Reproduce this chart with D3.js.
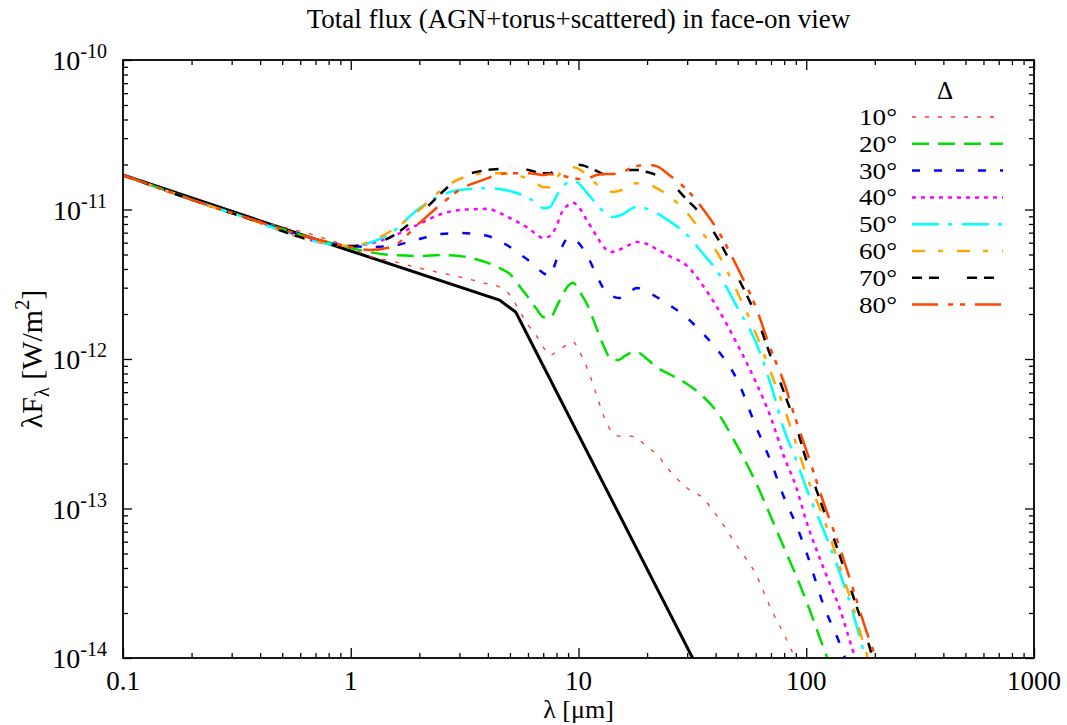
<!DOCTYPE html>
<html>
<head>
<meta charset="utf-8">
<style>
    body {
        margin: 0;
        background-color: #ffffff;
    }
    text {
        font-family: "Liberation Serif", "DejaVu Serif", serif;
        fill: #000;
    }
</style>
</head>
<body>
<div class="board"></div>
<script src="https://d3js.org/d3.v7.min.js"></script>
<script>
    // wavelength grid [um] shared by the torus curves
    const lambda = [0.1, 0.3, 1, 1.2, 1.5, 2, 2.5, 3, 4, 4.5, 5, 5.5, 6, 6.5, 7, 7.5, 8, 8.5, 9, 9.5,
        10, 11, 12, 13, 14, 15, 16, 17, 18, 20, 22, 25, 30, 35, 40, 50, 60, 70, 80, 90,
        100, 120, 140, 160, 180, 200, 250]

    // lambda*F_lambda [W/m^2], one array per half-opening angle
    const flux10 = [1.70e-11, 9.48e-12, 5.53e-12, 4.89e-12, 4.53e-12, 4.06e-12, 3.76e-12, 3.54e-12, 3.18e-12, 3.03e-12,
        2.68e-12, 2.10e-12, 1.69e-12, 1.45e-12, 1.20e-12, 1.06e-12, 1.11e-12, 1.19e-12, 1.26e-12, 1.30e-12,
        1.15e-12, 8.44e-13, 5.75e-13, 4.03e-13, 3.25e-13, 3.05e-13, 3.05e-13, 3.05e-13, 2.96e-13, 2.58e-13,
        2.31e-13, 1.81e-13, 1.37e-13, 1.18e-13, 9.19e-14, 5.53e-14, 3.65e-14, 2.13e-14, 1.43e-14, 9.7e-15,
        6.6e-15, null, null, null, null, null, null]
    const flux20 = [1.70e-11, 9.48e-12, 5.53e-12, 5.20e-12, 4.96e-12, 4.89e-12, 4.96e-12, 4.89e-12, 4.39e-12, 4.06e-12,
        3.70e-12, 3.08e-12, 2.60e-12, 2.19e-12, 1.91e-12, 1.88e-12, 2.23e-12, 2.68e-12, 3.08e-12, 3.23e-12,
        2.89e-12, 2.26e-12, 1.61e-12, 1.19e-12, 9.85e-13, 9.85e-13, 1.05e-12, 1.10e-12, 1.11e-12, 1.00e-12,
        8.84e-13, 7.94e-13, 6.81e-13, 5.66e-13, 4.56e-13, 2.58e-13, 1.50e-13, 8.77e-14, 5.44e-14, 3.59e-14,
        2.41e-14, 1.13e-14, 6.1e-15, 3.5e-15, null, null, null]
    const flux30 = [1.70e-11, 9.48e-12, 5.70e-12, 5.61e-12, 5.70e-12, 6.35e-12, 6.86e-12, 6.96e-12, 6.65e-12, 6.16e-12,
        5.61e-12, 5.04e-12, 4.60e-12, 4.13e-12, 3.76e-12, 3.59e-12, 4.60e-12, 5.70e-12, 6.45e-12, 6.35e-12,
        5.97e-12, 4.81e-12, 3.65e-12, 2.89e-12, 2.64e-12, 2.56e-12, 2.64e-12, 2.85e-12, 2.99e-12, 2.81e-12,
        2.60e-12, 2.30e-12, 1.88e-12, 1.49e-12, 1.19e-12, 7.13e-13, 3.56e-13, 2.05e-13, 1.18e-13, 7.88e-14,
        5.12e-14, 2.19e-14, 1.26e-14, 7.1e-15, 4.4e-15, null, null]
    const flux40 = [1.70e-11, 9.48e-12, 5.70e-12, 5.88e-12, 6.55e-12, 8.00e-12, 9.33e-12, 9.92e-12, 1.01e-11, 9.48e-12,
        8.77e-12, 8.12e-12, 7.52e-12, 6.86e-12, 6.45e-12, 6.65e-12, 7.76e-12, 9.77e-12, 1.07e-11, 1.11e-11,
        1.04e-11, 8.25e-12, 6.65e-12, 5.53e-12, 5.20e-12, 5.36e-12, 5.61e-12, 5.88e-12, 6.06e-12, 5.88e-12,
        5.44e-12, 4.89e-12, 4.19e-12, 3.13e-12, 2.30e-12, 1.24e-12, 7.02e-13, 4.03e-13, 2.21e-13, 1.41e-13,
        8.25e-14, 3.88e-14, 2.16e-14, 1.13e-14, 6.6e-15, 4.0e-15, null]
    const flux50 = [1.70e-11, 9.48e-12, 5.70e-12, 5.97e-12, 6.96e-12, 1.02e-11, 1.25e-11, 1.35e-11, 1.39e-11, 1.37e-11,
        1.33e-11, 1.27e-11, 1.19e-11, 1.12e-11, 1.02e-11, 1.04e-11, 1.23e-11, 1.41e-11, 1.53e-11, 1.58e-11,
        1.50e-11, 1.27e-11, 1.09e-11, 9.48e-12, 8.91e-12, 9.05e-12, 9.48e-12, 1.01e-11, 1.04e-11, 1.01e-11,
        9.48e-12, 8.38e-12, 6.75e-12, 5.12e-12, 4.00e-12, 2.19e-12, 1.30e-12, 6.70e-13, 3.35e-13, 2.14e-13,
        1.37e-13, 6.96e-14, 3.76e-14, 2.03e-14, 1.05e-14, 5.7e-15, null]
    const flux60 = [1.70e-11, 9.48e-12, 5.70e-12, 6.06e-12, 7.18e-12, 9.92e-12, 1.35e-11, 1.60e-11, 1.75e-11, 1.75e-11,
        1.73e-11, 1.68e-11, 1.60e-11, 1.50e-11, 1.41e-11, 1.41e-11, 1.62e-11, 1.81e-11, 1.90e-11, 1.92e-11,
        1.87e-11, 1.68e-11, 1.48e-11, 1.37e-11, 1.31e-11, 1.33e-11, 1.39e-11, 1.48e-11, 1.50e-11, 1.48e-11,
        1.39e-11, 1.23e-11, 9.48e-12, 6.96e-12, 5.36e-12, 2.76e-12, 1.49e-12, 8.06e-13, 4.70e-13, 2.74e-13,
        1.68e-13, 8.38e-14, 4.13e-14, 2.23e-14, 1.19e-14, 7.1e-15, 2.6e-15]
    const flux70 = [1.70e-11, 9.48e-12, 5.70e-12, 5.79e-12, 6.55e-12, 9.19e-12, 1.29e-11, 1.62e-11, 1.84e-11, 1.87e-11,
        1.90e-11, 1.90e-11, 1.84e-11, 1.78e-11, 1.75e-11, 1.75e-11, 1.87e-11, 1.95e-11, 1.99e-11, 1.99e-11,
        1.99e-11, 1.92e-11, 1.81e-11, 1.70e-11, 1.62e-11, 1.65e-11, 1.75e-11, 1.84e-11, 1.84e-11, 1.78e-11,
        1.70e-11, 1.53e-11, 1.16e-11, 9.05e-12, 6.75e-12, 3.54e-12, 1.97e-12, 1.03e-12, 5.93e-13, 3.62e-13,
        2.11e-13, 9.48e-14, 4.89e-14, 2.64e-14, 1.54e-14, 9.0e-15, 2.9e-15]
    const flux80 = [1.70e-11, 9.48e-12, 5.61e-12, 5.36e-12, 5.61e-12, 8.12e-12, 1.09e-11, 1.35e-11, 1.62e-11, 1.73e-11,
        1.75e-11, 1.75e-11, 1.75e-11, 1.73e-11, 1.70e-11, 1.73e-11, 1.70e-11, 1.68e-11, 1.65e-11, 1.62e-11,
        1.60e-11, 1.62e-11, 1.70e-11, 1.73e-11, 1.73e-11, 1.75e-11, 1.81e-11, 1.90e-11, 1.95e-11, 1.99e-11,
        1.95e-11, 1.70e-11, 1.35e-11, 1.02e-11, 7.64e-12, 4.06e-12, 2.23e-12, 1.15e-12, 6.91e-13, 3.91e-13,
        2.46e-13, 1.06e-13, 5.53e-14, 2.94e-14, 1.66e-14, 1.05e-14, 3.8e-15]

    // bare AGN (solid black)
    const agnLambda = [0.1, 1, 4.5, 5.3, 40]
    const agnFlux = [1.70e-11, 5.28e-12, 2.48e-12, 2.06e-12, 5.0e-15]

    const angleLabels = ["10°", "20°", "30°", "40°", "50°", "60°", "70°", "80°"]
    const xTicks = [0.1, 1, 10, 100, 1000]
    const yTicks = [1e-14, 1e-13, 1e-12, 1e-11, 1e-10]

    // styles
    const COLORS = ["#ff3030", "#00e000", "#0000ff", "#ff00ff", "#00ffff", "#ffa500", "#000000", "#ff4500"]
    const DASHES = ["4,9", "17,9", "8,14", "4,5", "27,9,4,10", "13,13,5,14", "10,7,10,28", "26,10,5,7,5,10"]
    const WIDTHS = [1.3, 2.5, 2.5, 2.5, 2.5, 2.5, 2.5, 2.5]

    const W = 1067, H = 725
    const margin = { top: 60, right: 33, bottom: 67, left: 123 }
    const plotL = margin.left, plotR = W - margin.right
    const plotT = margin.top, plotB = H - margin.bottom

    let svg = d3.select(".board")
        .append("svg")
        .attr("width", W)
        .attr("height", H)

    let x = d3.scaleLog().domain([0.1, 1000]).range([plotL, plotR])
    let y = d3.scaleLog().domain([1e-14, 1e-10]).range([plotB, plotT])

    svg.append("clipPath").attr("id", "plot")
        .append("rect")
        .attr("x", plotL).attr("y", plotT)
        .attr("width", plotR - plotL).attr("height", plotB - plotT)

    function minorTicks(majors) {
        let out = []
        for (let i = 0; i < majors.length - 1; i++) {
            for (let k = 2; k <= 9; k++) out.push(majors[i] * k)
        }
        return out
    }

    function tickGroup(axis, transform, values, size) {
        svg.append("g")
            .attr("transform", transform)
            .call(axis.tickValues(values).tickSize(size).tickFormat(""))
            .call(g => g.select(".domain").remove())
            .call(g => g.selectAll("line").attr("stroke", "#000").attr("stroke-width", 1.3))
    }

    tickGroup(d3.axisBottom(x), "translate(0," + plotB + ")", xTicks, -10)
    tickGroup(d3.axisBottom(x), "translate(0," + plotB + ")", minorTicks(xTicks), -5)
    tickGroup(d3.axisTop(x), "translate(0," + plotT + ")", xTicks, -10)
    tickGroup(d3.axisTop(x), "translate(0," + plotT + ")", minorTicks(xTicks), -5)
    tickGroup(d3.axisLeft(y), "translate(" + plotL + ",0)", yTicks, -9)
    tickGroup(d3.axisLeft(y), "translate(" + plotL + ",0)", minorTicks(yTicks), -5)
    tickGroup(d3.axisRight(y), "translate(" + plotR + ",0)", yTicks, -9)
    tickGroup(d3.axisRight(y), "translate(" + plotR + ",0)", minorTicks(yTicks), -5)

    // tick labels
    svg.append("g").selectAll("text")
        .data(xTicks)
        .enter()
        .append("text")
        .attr("x", d => x(d))
        .attr("y", plotB + 32)
        .attr("text-anchor", "middle")
        .attr("font-size", 27)
        .text(d => String(d))

    let yLab = svg.append("g").selectAll("text")
        .data(yTicks)
        .enter()
        .append("text")
        .attr("x", plotL - 16)
        .attr("y", d => y(d) + 10)
        .attr("text-anchor", "end")
        .attr("font-size", 28)
    yLab.append("tspan").text("10")
    yLab.append("tspan")
        .attr("font-size", 20)
        .attr("dy", -12)
        .text(d => String(Math.round(Math.log10(d))))

    // curves
    let line = d3.line()
        .defined(d => d[1] != null)
        .x(d => x(d[0]))
        .y(d => y(d[1]))
        .curve(d3.curveMonotoneX)

    let curves = svg.append("g").attr("clip-path", "url(#plot)")

    curves.append("path")
        .datum(agnLambda.map((l, i) => [l, agnFlux[i]]))
        .attr("fill", "none")
        .attr("stroke", "#000")
        .attr("stroke-width", 3)
        .attr("d", d3.line().x(d => x(d[0])).y(d => y(d[1])))

    const allFlux = [flux10, flux20, flux30, flux40, flux50, flux60, flux70, flux80]
    allFlux.forEach((vals, i) => {
        curves.append("path")
            .datum(lambda.map((l, j) => [l, vals[j]]))
            .attr("fill", "none")
            .attr("stroke", COLORS[i])
            .attr("stroke-width", WIDTHS[i])
            .attr("stroke-dasharray", DASHES[i])
            .attr("d", line)
    })

    // frame
    svg.append("rect")
        .attr("x", plotL).attr("y", plotT)
        .attr("width", plotR - plotL).attr("height", plotB - plotT)
        .attr("fill", "none")
        .attr("stroke", "#000")
        .attr("stroke-width", 1.8)

    // legend
    let legend = svg.append("g")
    legend.append("text")
        .attr("x", 945).attr("y", 99)
        .attr("text-anchor", "middle")
        .attr("font-size", 25)
        .text("Δ")
    angleLabels.forEach((lab, i) => {
        let ly = 117 + i * 26.8
        legend.append("text")
            .attr("x", 897).attr("y", ly + 8)
            .attr("text-anchor", "end")
            .attr("font-size", 23)
            .attr("textLength", 38)
            .attr("lengthAdjust", "spacingAndGlyphs")
            .text(lab)
        legend.append("line")
            .attr("x1", 912).attr("x2", 1003)
            .attr("y1", ly).attr("y2", ly)
            .attr("stroke", COLORS[i])
            .attr("stroke-width", WIDTHS[i])
            .attr("stroke-dasharray", DASHES[i])
    })

    // titles
    svg.append("text")
        .attr("x", (plotL + plotR) / 2).attr("y", 28)
        .attr("text-anchor", "middle")
        .attr("font-size", 27)
        .text("Total flux (AGN+torus+scattered) in face-on view")

    svg.append("text")
        .attr("x", (plotL + plotR) / 2).attr("y", 718)
        .attr("text-anchor", "middle")
        .attr("font-size", 26)
        .text("λ [μm]")

    let yl = svg.append("text")
        .attr("transform", "translate(42," + (plotT + plotB) / 2 + ") rotate(-90)")
        .attr("text-anchor", "middle")
        .attr("font-size", 30)
    yl.append("tspan").text("λF")
    yl.append("tspan").attr("font-size", 20).attr("dy", 7).text("λ")
    yl.append("tspan").attr("dy", -7).text(" [W/m")
    yl.append("tspan").attr("font-size", 20).attr("dy", -13).text("2")
    yl.append("tspan").attr("dy", 13).text("]")
</script>
</body>
</html>
